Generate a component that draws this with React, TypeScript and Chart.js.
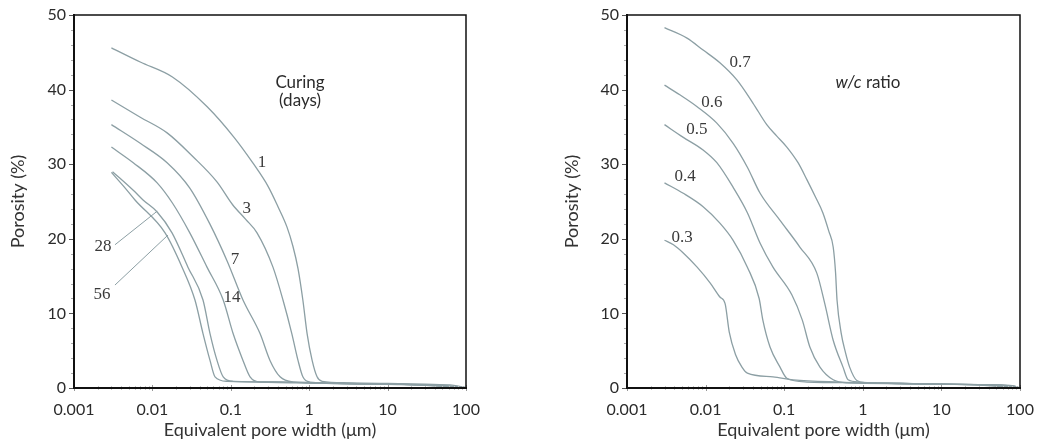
import React, { useEffect, useRef } from 'react';
import { Chart, registerables } from 'chart.js';

Chart.register(...registerables);

// ---------- axis ticks ----------
const xTickValues = [0.001, 0.01, 0.1, 1, 10, 100];
const xTickLabels = ['0.001', '0.01', '0.1', '1', '10', '100'];
const yMin = 0;
const yMax = 50;
const yStep = 10;
const yMinorStep = 2;
const xAxisTitle = 'Equivalent pore width (\u03bcm)';
const yAxisTitle = 'Porosity (%)';

// ---------- left panel: curing time (days) ----------
const cure1X = [0.003, 0.007, 0.018, 0.05, 0.11, 0.19, 0.3, 0.4, 0.52, 0.62, 0.72, 0.83, 0.94, 1.09, 1.26, 1.46, 3, 10, 30, 70, 100];
const cure1Y = [45.6, 43.7, 41.7, 37.7, 33.6, 30.2, 27.0, 24.3, 21.6, 19.0, 16.0, 11.8, 7.3, 3.7, 1.5, 0.9, 0.7, 0.6, 0.5, 0.35, 0.05];
const cure3X = [0.003, 0.007, 0.0154, 0.033, 0.067, 0.105, 0.155, 0.216, 0.345, 0.463, 0.6, 0.72, 0.83, 1.02, 3, 10, 30, 100];
const cure3Y = [38.6, 36.3, 34.2, 31.0, 27.6, 24.6, 22.6, 20.8, 16.2, 11.8, 7.3, 3.7, 1.5, 0.8, 0.6, 0.5, 0.4, 0.05];
const cure7X = [0.003, 0.007, 0.0154, 0.03, 0.054, 0.09, 0.143, 0.236, 0.316, 0.425, 0.62, 2, 10, 40, 100];
const cure7Y = [35.3, 32.8, 30.2, 26.8, 22.0, 17.0, 11.8, 7.3, 3.7, 1.5, 0.8, 0.6, 0.5, 0.4, 0.05];
const cure14X = [0.003, 0.0057, 0.0115, 0.018, 0.03, 0.0497, 0.08, 0.107, 0.143, 0.176, 0.236, 1, 10, 40, 100];
const cure14Y = [32.3, 30.2, 27.5, 24.8, 20.8, 16.2, 11.8, 7.3, 3.7, 1.5, 0.8, 0.7, 0.5, 0.35, 0.05];
const cure28X = [0.0031, 0.0057, 0.0076, 0.0115, 0.0178, 0.0284, 0.0442, 0.0543, 0.0667, 0.08, 0.107, 0.5, 3, 20, 100];
const cure28Y = [29.0, 26.5, 25.2, 23.6, 20.8, 16.2, 11.8, 7.3, 3.7, 1.5, 0.9, 0.8, 0.6, 0.45, 0.05];
const cure56X = [0.003, 0.0045, 0.006, 0.0145, 0.0239, 0.0349, 0.0442, 0.0543, 0.0629, 0.0895, 0.5, 3, 20, 100];
const cure56Y = [28.9, 26.8, 25.2, 20.8, 16.2, 11.8, 7.3, 3.7, 1.5, 0.9, 0.8, 0.6, 0.45, 0.05];

// leader lines from "28" and "56" labels to their curves
const leader28X = [0.00333, 0.0115];
const leader28Y = [19.2, 23.7];
const leader56X = [0.00333, 0.0158];
const leader56Y = [13.8, 20.5];

const cureLabels = ['1', '3', '7', '14', '28', '56'];
const cureLabelX = [0.25, 0.16, 0.113, 0.1035, 0.00234, 0.00228];
const cureLabelY = [30.2, 24.1, 17.2, 12.1, 18.9, 12.5];

// ---------- right panel: w/c ratio ----------
const wc07X = [0.003, 0.0058, 0.0093, 0.0152, 0.025, 0.04, 0.06, 0.08, 0.108, 0.15, 0.195, 0.25, 0.31, 0.37, 0.42, 0.45, 0.47, 0.53, 0.6, 0.68, 0.84, 1.1, 3, 10, 30, 80, 100];
const wc07Y = [48.3, 46.9, 45.3, 43.6, 41.3, 38.2, 35.3, 33.8, 32.3, 30.2, 27.9, 25.6, 23.5, 21.0, 18.9, 15.5, 11.8, 7.4, 4.8, 2.8, 1.0, 0.7, 0.6, 0.5, 0.45, 0.3, 0.0];
const wc06X = [0.003, 0.0047, 0.0078, 0.0139, 0.0224, 0.034, 0.0494, 0.088, 0.158, 0.26, 0.33, 0.42, 0.56, 0.65, 0.9, 3, 10, 30, 80, 100];
const wc06Y = [40.6, 39.3, 37.7, 35.5, 32.8, 29.6, 26.1, 22.5, 18.9, 15.4, 11.2, 6.4, 2.8, 1.1, 0.8, 0.6, 0.5, 0.45, 0.3, 0.0];
const wc05X = [0.003, 0.0052, 0.0093, 0.0139, 0.0224, 0.034, 0.0494, 0.072, 0.125, 0.17, 0.212, 0.285, 0.42, 0.63, 3, 10, 30, 100];
const wc05Y = [35.3, 33.6, 31.9, 30.2, 26.9, 23.5, 19.4, 16.2, 12.5, 9.1, 5.5, 2.8, 1.1, 0.7, 0.6, 0.5, 0.4, 0.0];
const wc04X = [0.003, 0.0052, 0.0093, 0.0152, 0.0224, 0.034, 0.048, 0.0535, 0.066, 0.0885, 0.108, 0.195, 1, 10, 40, 100];
const wc04Y = [27.5, 26.1, 24.3, 22.1, 19.8, 16.2, 12.0, 9.1, 5.5, 2.8, 1.3, 0.8, 0.7, 0.5, 0.4, 0.0];
const wc03X = [0.003, 0.0039, 0.0052, 0.0078, 0.0114, 0.0152, 0.0177, 0.02, 0.024, 0.029, 0.034, 0.072, 0.13, 0.5, 3, 10, 40, 100];
const wc03Y = [19.8, 19.2, 18.1, 16.2, 14.1, 12.2, 11.3, 7.5, 4.5, 2.8, 2.0, 1.5, 1.1, 0.8, 0.6, 0.5, 0.4, 0.0];

const wcLabels = ['0.7', '0.6', '0.5', '0.4', '0.3'];
const wcLabelX = [0.0274, 0.01206, 0.00777, 0.00547, 0.00501];
const wcLabelY = [43.6, 38.3, 34.6, 28.3, 20.2];

// ---------- styling ----------
const CURVE_COLOR = '#8c9fa4';
const TEXT_COLOR = '#2b2b2b';
const SANS = 'Lato, "DejaVu Sans", sans-serif';
const SERIF = '"Liberation Serif", "DejaVu Serif", serif';

type Series = { xs: number[]; ys: number[]; width?: number };
type Note = { text: string; x: number; y: number; kind: 'serif' | 'sans' | 'wc' };

const toPoints = (xs: number[], ys: number[]) => xs.map((x, i) => ({ x, y: ys[i] }));

function framePlugin(notes: Note[]) {
  return {
    id: 'frameAndNotes',
    afterDraw(chart: any) {
      const { ctx, chartArea: a, scales } = chart;
      const xs = scales.x;
      const ys = scales.y;
      ctx.save();
      // minor / major y ticks (outward)
      for (let v = yMin; v <= yMax + 1e-9; v += yMinorStep) {
        const py = Math.round(ys.getPixelForValue(v)) + 0.5;
        const major = v % yStep === 0;
        ctx.strokeStyle = major ? '#555' : '#aaa';
        ctx.lineWidth = 1;
        ctx.beginPath();
        ctx.moveTo(a.left - (major ? 5 : 3), py);
        ctx.lineTo(a.left, py);
        ctx.stroke();
      }
      // x ticks (log), faint
      for (let d = 0; d < xTickValues.length; d++) {
        const base = xTickValues[d];
        for (let m = 1; m <= 9; m++) {
          const v = base * m;
          if (v > xTickValues[xTickValues.length - 1] + 1e-9) break;
          const px = Math.round(xs.getPixelForValue(v)) + 0.5;
          ctx.strokeStyle = m === 1 ? '#999' : '#c8c8c8';
          ctx.lineWidth = 1;
          ctx.beginPath();
          ctx.moveTo(px, a.bottom - (m === 1 ? 3 : 2));
          ctx.lineTo(px, a.bottom + (m === 1 ? 3 : 2));
          ctx.stroke();
        }
      }
      // frame
      ctx.strokeStyle = '#111';
      ctx.lineWidth = 1.5;
      ctx.beginPath();
      ctx.moveTo(a.left, a.top);
      ctx.lineTo(a.right, a.top);
      ctx.lineTo(a.right, a.bottom);
      ctx.stroke();
      ctx.lineWidth = 2;
      ctx.beginPath();
      ctx.moveTo(a.left, a.top - 1);
      ctx.lineTo(a.left, a.bottom);
      ctx.lineTo(a.right + 1, a.bottom);
      ctx.stroke();
      // annotations
      ctx.fillStyle = TEXT_COLOR;
      ctx.textBaseline = 'middle';
      for (const n of notes) {
        const px = xs.getPixelForValue(n.x);
        const py = ys.getPixelForValue(n.y);
        if (n.kind === 'serif') {
          ctx.font = `17px ${SERIF}`;
          ctx.fillStyle = '#3a3a3a';
          ctx.textAlign = 'center';
          ctx.fillText(n.text, px, py);
        } else if (n.kind === 'sans') {
          ctx.font = `17px ${SANS}`;
          ctx.fillStyle = TEXT_COLOR;
          ctx.textAlign = 'center';
          ctx.fillText(n.text, px, py);
        } else {
          const [ital, rest] = n.text.split('|');
          ctx.fillStyle = TEXT_COLOR;
          ctx.font = `italic 17px ${SANS}`;
          const w1 = ctx.measureText(ital).width;
          ctx.font = `17px ${SANS}`;
          const w2 = ctx.measureText(rest).width;
          const start = px - (w1 + w2) / 2;
          ctx.textAlign = 'left';
          ctx.font = `italic 17px ${SANS}`;
          ctx.fillText(ital, start, py);
          ctx.font = `17px ${SANS}`;
          ctx.fillText(rest, start + w1, py);
        }
      }
      ctx.restore();
    },
  };
}

type PanelProps = {
  left: number;
  width: number;
  series: Series[];
  notes: Note[];
  padLeft: number;
  padRight: number;
  yAxisWidth: number;
};

function Panel({ left, width, series, notes, padLeft, padRight, yAxisWidth }: PanelProps) {
  const ref = useRef<HTMLCanvasElement | null>(null);
  useEffect(() => {
    if (!ref.current) return;
    const chart = new Chart(ref.current, {
      type: 'line',
      data: {
        datasets: series.map((s) => ({
          data: toPoints(s.xs, s.ys),
          borderColor: CURVE_COLOR,
          borderWidth: s.width ?? 1.3,
          pointRadius: 0,
          fill: false,
          cubicInterpolationMode: 'monotone' as const,
        })),
      },
      options: {
        animation: false,
        responsive: false,
        maintainAspectRatio: false,
        layout: { padding: { left: padLeft, right: padRight, top: 15, bottom: 0 } },
        plugins: { legend: { display: false }, tooltip: { enabled: false } },
        scales: {
          x: {
            type: 'logarithmic',
            min: xTickValues[0],
            max: xTickValues[xTickValues.length - 1],
            grid: { display: false, drawTicks: false },
            border: { display: false },
            afterBuildTicks: (scale: any) => {
              scale.ticks = xTickValues.map((v) => ({ value: v }));
            },
            afterFit: (scale: any) => {
              scale.height = 59;
              scale.paddingLeft = 0;
              scale.paddingRight = 0;
            },
            ticks: {
              autoSkip: false,
              maxRotation: 0,
              padding: 12,
              color: TEXT_COLOR,
              font: { family: SANS, size: 16 },
              callback: (_v: any, i: number) => xTickLabels[i],
            },
            title: {
              display: true,
              text: xAxisTitle,
              color: '#333',
              font: { family: SANS, size: 18 },
              padding: { top: 0, bottom: 6 },
            },
          },
          y: {
            min: yMin,
            max: yMax,
            grid: { display: false, drawTicks: false },
            border: { display: false },
            afterFit: (scale: any) => {
              scale.width = yAxisWidth;
              scale.paddingTop = 0;
              scale.paddingBottom = 0;
            },
            ticks: {
              stepSize: yStep,
              padding: 8,
              color: TEXT_COLOR,
              font: { family: SANS, size: 16 },
            },
            title: {
              display: true,
              text: yAxisTitle,
              color: '#333',
              font: { family: SANS, size: 18 },
              padding: { top: 2, bottom: 0 },
            },
          },
        },
      },
      plugins: [framePlugin(notes)],
    } as any);
    return () => chart.destroy();
  }, []);
  return (
    <canvas
      ref={ref}
      width={width}
      height={447}
      style={{ position: 'absolute', left, top: 0, width, height: 447 }}
    />
  );
}

const cureSeries: Series[] = [
  { xs: cure1X, ys: cure1Y },
  { xs: cure3X, ys: cure3Y },
  { xs: cure7X, ys: cure7Y },
  { xs: cure14X, ys: cure14Y },
  { xs: cure28X, ys: cure28Y },
  { xs: cure56X, ys: cure56Y },
  { xs: leader28X, ys: leader28Y, width: 1 },
  { xs: leader56X, ys: leader56Y, width: 1 },
];

const cureNotes: Note[] = [
  ...cureLabels.map((t, i) => ({ text: t, x: cureLabelX[i], y: cureLabelY[i], kind: 'serif' as const })),
  { text: 'Curing', x: 0.764, y: 41.0, kind: 'sans' },
  { text: '(days)', x: 0.764, y: 38.6, kind: 'sans' },
];

const wcSeries: Series[] = [
  { xs: wc07X, ys: wc07Y },
  { xs: wc06X, ys: wc06Y },
  { xs: wc05X, ys: wc05Y },
  { xs: wc04X, ys: wc04Y },
  { xs: wc03X, ys: wc03Y },
];

const wcNotes: Note[] = [
  ...wcLabels.map((t, i) => ({ text: t, x: wcLabelX[i], y: wcLabelY[i], kind: 'serif' as const })),
  { text: 'w/c| ratio', x: 1.164, y: 41.0, kind: 'wc' },
];

export default function App() {
  return (
    <div style={{ position: 'absolute', left: 0, top: 0, width: 1037, height: 447, background: '#fff' }}>
      <Panel left={0} width={520} series={cureSeries} notes={cureNotes} padLeft={5} padRight={54} yAxisWidth={69} />
      <Panel left={520} width={517} series={wcSeries} notes={wcNotes} padLeft={39} padRight={17} yAxisWidth={68} />
    </div>
  );
}
